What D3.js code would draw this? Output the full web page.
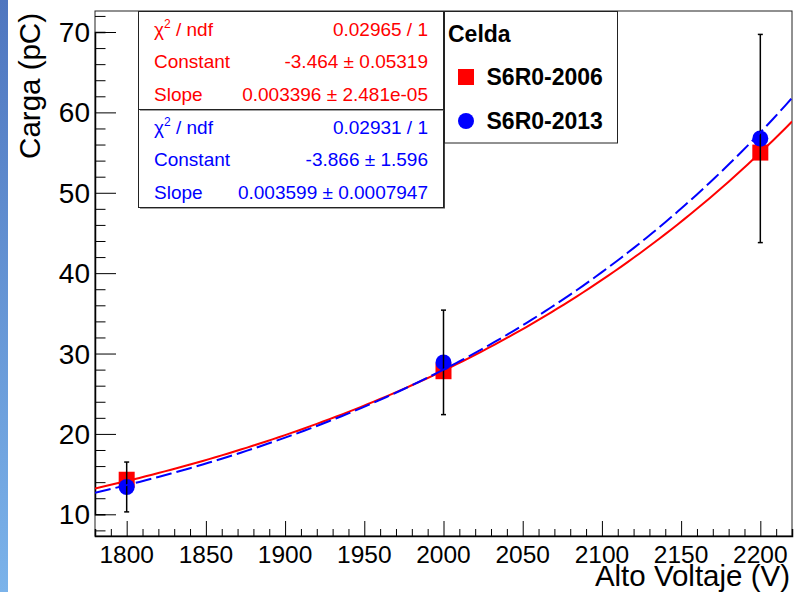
<!DOCTYPE html>
<html>
<head>
<meta charset="utf-8">
<script src="https://cdn.jsdelivr.net/npm/d3@7"></script>
<style>
  body { margin: 0; background: #fff; }
  svg { display: block; font-family: "Liberation Sans", Arial, Helvetica, sans-serif; }
</style>
</head>
<body>
<div id="chart"></div>
<script>
const width = 794, height = 592;

// data
const voltaje = [1800, 2000, 2200];
const carga2006 = [14.3, 27.8, 55.0];
const carga2013 = [13.4, 28.9, 56.75];
const err2013 = [3.1, 6.5, 12.95];

// expo fits: exp(Constant + Slope*x)
const fitConstant = [-3.464, -3.866];
const fitSlope = [0.003396, 0.003599];
const fitColors = ["#ff0000", "#0000ff"];

const xTicks = [1800, 1850, 1900, 1950, 2000, 2050, 2100, 2150, 2200];
const yTicks = [10, 20, 30, 40, 50, 60, 70];

const statsLabels = ["χ2 / ndf", "Constant", "Slope"];
const statsRed = ["0.02965 / 1", "-3.464 ± 0.05319", "0.003396 ± 2.481e-05"];
const statsBlue = ["0.02931 / 1", "-3.866 ± 1.596", "0.003599 ± 0.0007947"];

const legendTitle = "Celda";
const legendNames = ["S6R0-2006", "S6R0-2013"];

const margin = {left: 95, right: 792, top: 11, bottom: 536};

const x = d3.scaleLinear().domain([1780, 2220]).range([margin.left, margin.right]);
const y = d3.scaleLinear().domain([10, 70]).range([514.3, 32]);

const svg = d3.select("#chart").append("svg")
  .attr("width", width)
  .attr("height", height);

// blue strip at the left edge
const grad = svg.append("defs").append("linearGradient")
  .attr("id", "strip").attr("x1", 0).attr("y1", 0).attr("x2", 0).attr("y2", 1);
grad.append("stop").attr("offset", "0%").attr("stop-color", "#4f76bf");
grad.append("stop").attr("offset", "100%").attr("stop-color", "#7bb3ea");
svg.append("rect").attr("x", 0).attr("y", 0).attr("width", 8).attr("height", height)
  .attr("fill", "url(#strip)");

// frame
svg.append("rect")
  .attr("x", margin.left).attr("y", margin.top)
  .attr("width", margin.right - margin.left)
  .attr("height", margin.bottom - margin.top)
  .attr("fill", "none").attr("stroke", "#222").attr("stroke-width", 1);

svg.append("clipPath").attr("id", "frame")
  .append("rect")
  .attr("x", margin.left).attr("y", margin.top)
  .attr("width", margin.right - margin.left)
  .attr("height", margin.bottom - margin.top);

// x axis
const xAxis = svg.append("g").attr("transform", `translate(0,${margin.bottom})`);
xAxis.call(d3.axisBottom(x).tickValues(d3.range(1780, 2221, 10))
  .tickSize(-7).tickFormat(""));
xAxis.call(g => g.selectAll(".tick line").filter(d => d % 50 === 0).attr("y2", -15));
xAxis.select(".domain").attr("stroke", "#000").attr("stroke-width", 1.5);
xAxis.selectAll(".tick line").attr("stroke", "#000");
xAxis.selectAll(".xlabel")
  .data(xTicks).enter().append("text")
  .attr("x", d => x(d)).attr("y", 27)
  .attr("text-anchor", "middle")
  .attr("font-size", 24.5)
  .attr("fill", "#000")
  .text(d => d);

// y axis
const yAxis = svg.append("g").attr("transform", `translate(${margin.left},0)`);
yAxis.call(d3.axisLeft(y).tickValues(d3.range(8, 73, 2))
  .tickSize(-10.5).tickFormat(""));
yAxis.call(g => g.selectAll(".tick line").filter(d => d % 10 === 0).attr("x2", 21));
yAxis.select(".domain").attr("stroke", "#000").attr("stroke-width", 1.5);
yAxis.selectAll(".tick line").attr("stroke", "#000");
yAxis.selectAll(".ylabel")
  .data(yTicks).enter().append("text")
  .attr("x", -5).attr("y", d => y(d) + 10)
  .attr("text-anchor", "end")
  .attr("font-size", 28)
  .attr("fill", "#000")
  .text(d => d);

// axis titles
svg.append("text")
  .attr("x", 790).attr("y", 586)
  .attr("text-anchor", "end")
  .attr("font-size", 29.5)
  .text("Alto Voltaje (V)");

svg.append("text")
  .attr("transform", "translate(40,13) rotate(-90)")
  .attr("text-anchor", "end")
  .attr("font-size", 29.5)
  .text("Carga (pC)");

const plot = svg.append("g").attr("clip-path", "url(#frame)");

// red points
plot.selectAll(".sq")
  .data(voltaje).enter().append("rect")
  .attr("x", (d) => x(d) - 8)
  .attr("y", (d, i) => y(carga2006[i]) - 8)
  .attr("width", 16).attr("height", 16)
  .attr("fill", "#ff0000");

// fit curves
const fitX = d3.range(1780, 2220.1, 4);
const line = d3.line().x(d => x(d[0])).y(d => y(d[1]));

function fitCurve(k) {
  return fitX.map(v => [v, Math.exp(fitConstant[k] + fitSlope[k] * v)]);
}

plot.append("path")
  .attr("d", line(fitCurve(0)))
  .attr("fill", "none").attr("stroke", fitColors[0]).attr("stroke-width", 2);

// blue points
plot.selectAll(".dot")
  .data(voltaje).enter().append("circle")
  .attr("cx", d => x(d))
  .attr("cy", (d, i) => y(carga2013[i]))
  .attr("r", 8)
  .attr("fill", "#0000ff");

// error bars
const eb = plot.selectAll(".err")
  .data(voltaje).enter().append("g");
eb.append("line")
  .attr("x1", d => x(d)).attr("x2", d => x(d))
  .attr("y1", (d, i) => y(carga2013[i] + err2013[i]))
  .attr("y2", (d, i) => y(carga2013[i] - err2013[i]))
  .attr("stroke", "#000").attr("stroke-width", 1.5);
eb.append("line")
  .attr("x1", d => x(d) - 2.5).attr("x2", d => x(d) + 2.5)
  .attr("y1", (d, i) => y(carga2013[i] + err2013[i]))
  .attr("y2", (d, i) => y(carga2013[i] + err2013[i]))
  .attr("stroke", "#000").attr("stroke-width", 1.5);
eb.append("line")
  .attr("x1", d => x(d) - 2.5).attr("x2", d => x(d) + 2.5)
  .attr("y1", (d, i) => y(carga2013[i] - err2013[i]))
  .attr("y2", (d, i) => y(carga2013[i] - err2013[i]))
  .attr("stroke", "#000").attr("stroke-width", 1.5);

plot.append("path")
  .attr("d", line(fitCurve(1)))
  .attr("fill", "none").attr("stroke", fitColors[1]).attr("stroke-width", 2)
  .attr("stroke-dasharray", "16,5");

// stats boxes
function statsBox(y0, values, color) {
  const g = svg.append("g");
  g.append("rect").attr("x", 140).attr("y", y0 + 1).attr("width", 305).attr("height", 98)
    .attr("fill", "#444");
  g.append("rect").attr("x", 138.5).attr("y", y0).attr("width", 305).attr("height", 98)
    .attr("fill", "#fff").attr("stroke", "#222").attr("stroke-width", 1);
  statsLabels.forEach((lab, i) => {
    const t = g.append("text")
      .attr("x", 154).attr("y", y0 + 24 + i * 32.5)
      .attr("font-size", 19).attr("fill", color);
    if (i === 0) {
      t.append("tspan").text("χ");
      t.append("tspan").attr("font-size", 12).attr("dy", -8).text("2");
      t.append("tspan").attr("dy", 8).text(" / ndf");
    } else {
      t.text(lab);
    }
    g.append("text")
      .attr("x", 428).attr("y", y0 + 24 + i * 32.5)
      .attr("text-anchor", "end")
      .attr("font-size", 19).attr("fill", color)
      .text(values[i]);
  });
}
statsBox(109.5, statsBlue, fitColors[1]);
statsBox(11.5, statsRed, fitColors[0]);

// legend
const leg = svg.append("g");
leg.append("rect").attr("x", 444.5).attr("y", 11.5).attr("width", 173).attr("height", 131.5)
  .attr("fill", "#fff").attr("stroke", "#222").attr("stroke-width", 1);
leg.append("text").attr("x", 448).attr("y", 41.5)
  .attr("font-size", 23).attr("font-weight", "bold").text(legendTitle);
leg.append("rect").attr("x", 458).attr("y", 69).attr("width", 16).attr("height", 16)
  .attr("fill", "#ff0000");
leg.append("circle").attr("cx", 466).attr("cy", 121).attr("r", 8).attr("fill", "#0000ff");
leg.selectAll(".lname")
  .data(legendNames).enter().append("text")
  .attr("x", 486.5).attr("y", (d, i) => 85 + i * 44)
  .attr("font-size", 23).attr("font-weight", "bold")
  .text(d => d);
</script>
</body>
</html>
